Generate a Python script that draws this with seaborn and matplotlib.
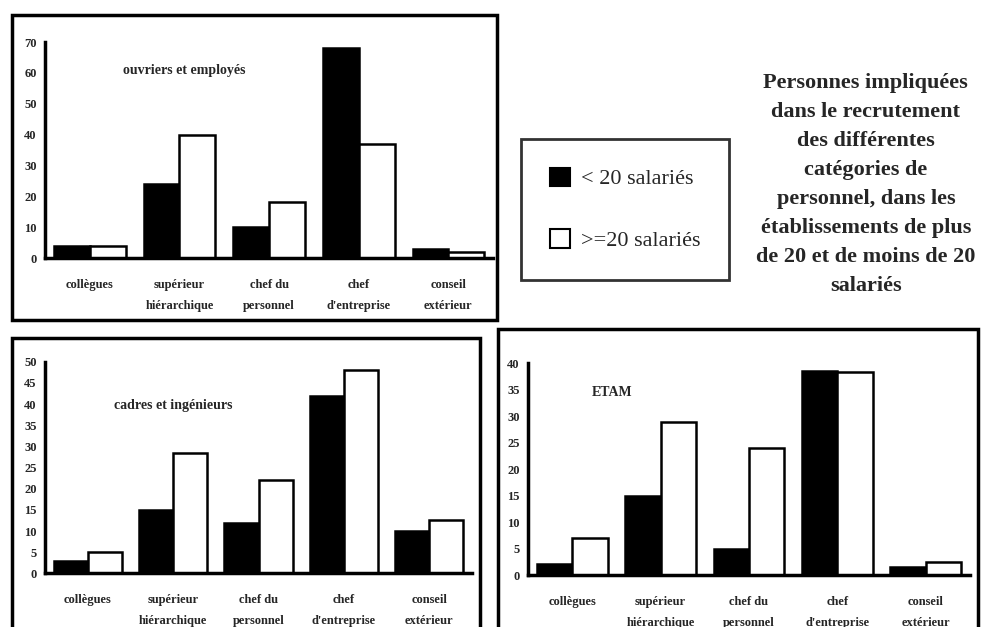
import numpy as np
import pandas as pd
import matplotlib.pyplot as plt
import seaborn as sns
from matplotlib.patches import Rectangle, Patch

# ------------------------------------------------------------
# Personnes impliquées dans le recrutement, par taille d'établissement
# ------------------------------------------------------------

categories = ["collègues", "supérieur\nhiérarchique", "chef du\npersonnel",
              "chef\nd'entreprise", "conseil\nextérieur"]
tailles = ["< 20 salariés", ">=20 salariés"]

# ouvriers et employés
ouvriers_moins20 = [4, 24, 10, 68, 3]
ouvriers_plus20 = [4, 40, 18, 37, 2]
ouvriers_ticks = [0, 10, 20, 30, 40, 50, 60, 70]

# cadres et ingénieurs
cadres_moins20 = [3, 15, 12, 42, 10]
cadres_plus20 = [5, 28.5, 22, 48, 12.5]
cadres_ticks = [0, 5, 10, 15, 20, 25, 30, 35, 40, 45, 50]

# ETAM
etam_moins20 = [2, 15, 5, 38.5, 1.5]
etam_plus20 = [7, 29, 24, 38.3, 2.5]
etam_ticks = [0, 5, 10, 15, 20, 25, 30, 35, 40]

titre = ("Personnes impliquées\ndans le recrutement\ndes différentes\n"
         "catégories de\npersonnel, dans les\nétablissements de plus\n"
         "de 20 et de moins de 20\nsalariés")

sns.set_style("white")
plt.rcParams["font.family"] = ["Liberation Serif", "DejaVu Serif"]

fig = plt.figure(figsize=(9.85, 6.27), dpi=100)


def to_long(moins20, plus20):
    return pd.DataFrame({
        "categorie": categories * 2,
        "taille": [tailles[0]] * 5 + [tailles[1]] * 5,
        "valeur": moins20 + plus20,
    })


def draw_panel(rect, moins20, plus20, ticks, label, label_xy):
    ax = fig.add_axes(rect)
    df = to_long(moins20, plus20)
    sns.barplot(data=df, x="categorie", y="valeur", hue="taille",
                hue_order=tailles, order=categories,
                palette=["black", "white"], edgecolor="black",
                linewidth=1.8, width=0.8, legend=False, ax=ax)
    ax.set_xlim(-0.5, 4.5)
    ax.set_ylim(0, ticks[-1])
    ax.set_yticks(ticks)
    ax.set_yticklabels([str(t) for t in ticks], fontsize=9, fontweight="bold")
    ax.set_xticks(range(5))
    ax.set_xticklabels(categories, fontsize=9, fontweight="bold",
                       linespacing=2.0)
    ax.set_xticks(np.arange(0.5, 5, 1), minor=True)
    ax.tick_params(axis="x", which="major", length=0, pad=15)
    ax.tick_params(axis="x", which="minor", direction="inout",
                   length=9, width=2)
    ax.tick_params(axis="y", direction="inout", length=8, width=2, pad=2)
    ax.set_xlabel("")
    ax.set_ylabel("")
    for side in ["top", "right"]:
        ax.spines[side].set_visible(False)
    for side in ["left", "bottom"]:
        ax.spines[side].set_linewidth(2.5)
        ax.spines[side].set_color("black")
    ax.patch.set_alpha(0)
    ax.text(label_xy[0], label_xy[1], label, transform=ax.transAxes,
            fontsize=10, fontweight="bold", ha="center", va="center")
    return ax


draw_panel([0.0457, 0.5885, 0.455, 0.3445], ouvriers_moins20,
           ouvriers_plus20, ouvriers_ticks, "ouvriers et employés", (0.31, 0.87))
draw_panel([0.0457, 0.0856, 0.4335, 0.3375], cadres_moins20,
           cadres_plus20, cadres_ticks, "cadres et ingénieurs", (0.30, 0.795))
draw_panel([0.536, 0.0829, 0.4487, 0.3376], etam_moins20,
           etam_plus20, etam_ticks, "ETAM", (0.19, 0.86))

# cadres autour des trois graphiques
for x0, y0, w, h in [(0.0122, 0.4896, 0.4924, 0.4864),
                     (0.0122, -0.01, 0.475, 0.471),
                     (0.5056, -0.01, 0.4873, 0.4857)]:
    fig.patches.append(Rectangle((x0, y0), w, h, transform=fig.transFigure,
                                 fill=False, edgecolor="black", linewidth=2.5))

# légende commune
handles = [Patch(facecolor="black", edgecolor="black", linewidth=1.5),
           Patch(facecolor="white", edgecolor="black", linewidth=1.5)]
leg = fig.legend(handles, tailles, loc="center", bbox_to_anchor=(0.6345, 0.666),
                 frameon=True, fancybox=False, edgecolor="black",
                 fontsize=16, handlelength=0.9, handleheight=0.9,
                 labelspacing=1.8, borderpad=1.3, handletextpad=0.5)
leg.get_frame().set_linewidth(2)

fig.text(0.879, 0.705, titre, ha="center", va="center", fontsize=16,
         fontweight="bold", linespacing=1.6)

plt.savefig("out.png", dpi=100)
